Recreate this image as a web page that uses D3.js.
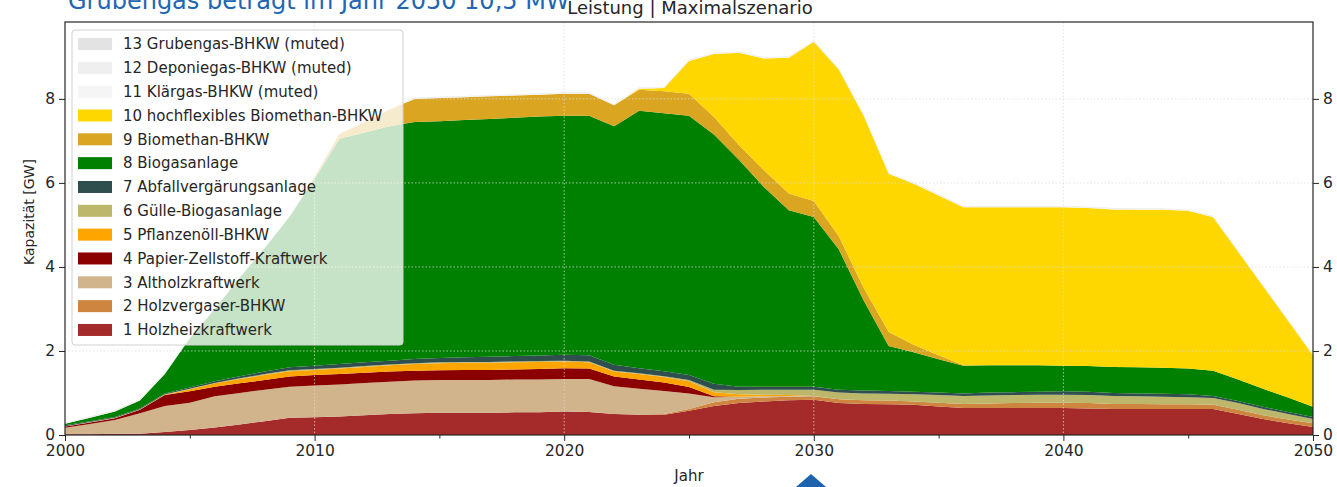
<!DOCTYPE html>
<html>
<head>
<meta charset="utf-8">
<script src="https://cdn.jsdelivr.net/npm/d3@7"></script>
<style>
  html, body { margin: 0; padding: 0; background: #ffffff; }
  svg { display: block; }
  text { font-family: "DejaVu Sans", sans-serif; fill: #262626; }
</style>
</head>
<body>
<svg id="chart" width="1337" height="487"></svg>
<script>
// Years on the x axis
const years = d3.range(2000, 2051);

// Installed capacity per technology in GW, one value per year 2000..2050
const holzheizkraftwerk = [0.02,0.02,0.03,0.03,0.07,0.12,0.18,0.25,0.33,0.41,
  0.42,0.44,0.47,0.50,0.52,0.53,0.53,0.53,0.54,0.54,
  0.56,0.55,0.50,0.48,0.48,0.58,0.69,0.76,0.80,0.83,
  0.84,0.76,0.74,0.73,0.72,0.68,0.64,0.64,0.64,0.64,
  0.64,0.63,0.62,0.62,0.62,0.62,0.62,0.50,0.38,0.28,0.19];
const holzvergaserBhkw = [0,0,0,0,0,0,0,0,0,0,
  0,0,0,0,0,0,0,0,0,0,
  0,0,0,0.01,0.02,0.04,0.09,0.10,0.09,0.08,
  0.08,0.09,0.09,0.09,0.08,0.09,0.10,0.11,0.12,0.13,
  0.13,0.13,0.12,0.12,0.11,0.11,0.10,0.10,0.09,0.09,0.09];
const altholzkraftwerk = [0.15,0.24,0.33,0.49,0.62,0.65,0.74,0.75,0.75,0.74,
  0.76,0.76,0.77,0.77,0.78,0.78,0.78,0.78,0.78,0.78,
  0.77,0.78,0.66,0.61,0.55,0.37,0.12,0.05,0.03,0.02,
  0.01,0,0,0,0,0,0,0,0,0,
  0,0,0,0,0,0,0,0,0,0,0];
const papierZellstoff = [0.03,0.04,0.04,0.08,0.26,0.27,0.23,0.23,0.23,0.24,
  0.25,0.25,0.24,0.24,0.23,0.23,0.24,0.24,0.24,0.25,
  0.26,0.25,0.23,0.22,0.20,0.15,0.02,0,0,0,
  0,0,0,0,0,0,0,0,0,0,
  0,0,0,0,0,0,0,0,0,0,0];
const pflanzenoelBhkw = [0,0,0,0,0.01,0.05,0.08,0.10,0.12,0.13,
  0.12,0.13,0.14,0.15,0.16,0.17,0.17,0.17,0.17,0.17,
  0.16,0.15,0.12,0.13,0.13,0.14,0.10,0.06,0.04,0.02,
  0,0,0,0,0,0,0,0,0,0,
  0,0,0,0,0,0,0,0,0,0,0];
const guelleBiogas = [0.01,0.01,0.01,0.01,0.01,0.01,0.01,0.02,0.02,0.02,
  0.02,0.02,0.02,0.02,0.02,0.02,0.02,0.02,0.02,0.02,
  0.02,0.02,0.02,0.02,0.02,0.03,0.06,0.10,0.12,0.13,
  0.15,0.16,0.16,0.16,0.17,0.18,0.19,0.19,0.19,0.19,
  0.19,0.19,0.19,0.18,0.18,0.17,0.16,0.16,0.15,0.13,0.10];
const abfallvergaerung = [0.02,0.02,0.02,0.02,0.02,0.03,0.04,0.05,0.06,0.07,
  0.08,0.09,0.09,0.09,0.10,0.10,0.11,0.12,0.13,0.13,
  0.14,0.15,0.14,0.12,0.12,0.12,0.14,0.08,0.07,0.07,
  0.07,0.07,0.07,0.07,0.06,0.06,0.06,0.07,0.07,0.07,
  0.08,0.08,0.07,0.07,0.07,0.07,0.05,0.05,0.05,0.05,0.05];
const biogasanlage = [0.04,0.08,0.13,0.19,0.46,1.17,1.72,2.35,2.94,3.59,
  4.45,5.36,5.47,5.58,5.64,5.64,5.65,5.66,5.67,5.69,
  5.69,5.70,5.68,6.13,6.14,6.17,5.93,5.40,4.75,4.20,
  4.04,3.34,2.14,1.07,0.94,0.79,0.66,0.65,0.64,0.63,
  0.61,0.61,0.62,0.62,0.62,0.61,0.60,0.51,0.43,0.34,0.24];
const biomethanBhkw = [0,0,0,0,0,0,0,0,0,0,
  0.05,0.12,0.25,0.40,0.55,0.55,0.54,0.54,0.53,0.52,
  0.52,0.52,0.50,0.50,0.52,0.52,0.42,0.35,0.40,0.40,
  0.38,0.31,0.30,0.33,0.18,0.10,0.01,0,0,0,
  0,0,0,0,0,0,0,0,0,0,0];
const hochflexBiomethan = [0,0,0,0,0,0,0,0,0,0,
  0,0,0,0,0,0,0,0,0,0,
  0,0,0,0.02,0.08,0.78,1.50,2.20,2.66,3.23,
  3.79,3.97,4.10,3.77,3.83,3.80,3.76,3.76,3.76,3.76,
  3.77,3.76,3.75,3.75,3.76,3.76,3.65,3.04,2.44,1.83,1.23];
const klaergasBhkw = [0.01,0.01,0.01,0.01,0.01,0.01,0.01,0.01,0.01,0.01,
  0.01,0.01,0.01,0.01,0.01,0.01,0.01,0.01,0.01,0.01,
  0.01,0.01,0.01,0.01,0.01,0.01,0.01,0.01,0.01,0.01,
  0.01,0.01,0.01,0.01,0.01,0.01,0.01,0.01,0.01,0.01,
  0.01,0.01,0.01,0.01,0.01,0.01,0.01,0.01,0.01,0.01,0.01];
const deponiegasBhkw = [0.01,0.01,0.01,0.01,0.01,0.01,0.01,0.01,0.01,0.01,
  0.01,0.01,0.01,0.01,0.01,0.01,0.01,0.01,0.01,0.01,
  0.01,0.01,0.01,0.01,0.01,0.01,0.01,0.01,0.01,0.01,
  0.01,0.01,0.01,0.01,0.01,0.01,0.01,0.01,0.01,0.01,
  0.01,0.01,0.01,0.01,0.01,0.01,0.01,0.01,0.01,0.01,0.01];
const grubengasBhkw = [0.01,0.01,0.01,0.01,0.01,0.01,0.01,0.01,0.01,0.01,
  0.01,0.01,0.01,0.01,0.01,0.01,0.01,0.01,0.01,0.01,
  0.01,0.01,0.01,0.01,0.01,0.01,0.01,0.01,0.01,0.01,
  0.01,0.01,0.01,0.01,0.01,0.01,0.01,0.01,0.01,0.01,
  0.01,0.01,0.01,0.01,0.01,0.01,0.01,0.01,0.01,0.01,0.0105];

// Series labels, bottom of the stack first
const seriesNames = [
  "1 Holzheizkraftwerk", "2 Holzvergaser-BHKW", "3 Altholzkraftwerk",
  "4 Papier-Zellstoff-Kraftwerk", "5 Pflanzenöll-BHKW", "6 Gülle-Biogasanlage",
  "7 Abfallvergärungsanlage", "8 Biogasanlage", "9 Biomethan-BHKW",
  "10 hochflexibles Biomethan-BHKW", "11 Klärgas-BHKW (muted)",
  "12 Deponiegas-BHKW (muted)", "13 Grubengas-BHKW (muted)"
];
const seriesValues = [
  holzheizkraftwerk, holzvergaserBhkw, altholzkraftwerk, papierZellstoff,
  pflanzenoelBhkw, guelleBiogas, abfallvergaerung, biogasanlage,
  biomethanBhkw, hochflexBiomethan, klaergasBhkw, deponiegasBhkw, grubengasBhkw
];
const seriesColors = [
  "#a52a2a", "#cd853f", "#d2b48c", "#8b0000", "#ffa500", "#bdb76b",
  "#2f4f4f", "#008000", "#daa520", "#ffd700", "#f5f5f5", "#efefef", "#e3e3e3"
];

// Axis ticks
const xMajorTicks = [2000, 2010, 2020, 2030, 2040, 2050];
const xMinorTicks = [2005, 2015, 2025, 2035, 2045];
const yTicks = [0, 2, 4, 6, 8];

const svg = d3.select("#chart");
const margin = { left: 65, right: 1313, top: 22, bottom: 435 };

const x = d3.scaleLinear().domain([2000, 2050]).range([margin.left, margin.right]);
const y = d3.scaleLinear().domain([0, 9.83]).range([margin.bottom, margin.top]);

// Table for the stack: one row per year
const table = years.map((yr, i) => {
  const row = { year: yr };
  seriesNames.forEach((n, k) => { row[n] = seriesValues[k][i]; });
  return row;
});
const stacked = d3.stack().keys(seriesNames)(table);

const area = d3.area()
  .x(d => x(d.data.year))
  .y0(d => y(d[0]))
  .y1(d => y(d[1]));

svg.append("g").selectAll("path")
  .data(stacked)
  .join("path")
  .attr("d", area)
  .attr("fill", (d, i) => seriesColors[i])
  .attr("stroke", "none");

// Dotted grid drawn over the areas
const grid = svg.append("g").attr("stroke", "#dcdcdc").attr("stroke-width", 1)
  .attr("stroke-dasharray", "1.5,2").attr("opacity", 0.75);
grid.selectAll("line.h").data([2, 4, 6, 8]).join("line").attr("class", "h")
  .attr("x1", margin.left).attr("x2", margin.right)
  .attr("y1", d => y(d)).attr("y2", d => y(d));
grid.selectAll("line.v").data([2010, 2020, 2030, 2040]).join("line").attr("class", "v")
  .attr("y1", margin.top).attr("y2", margin.bottom)
  .attr("x1", d => x(d)).attr("x2", d => x(d));

// Axes
const fontSize = "15.5px";
function styleAxis(g) {
  g.select(".domain").remove();
  g.selectAll(".tick line").attr("stroke", "#262626");
  g.selectAll(".tick text").attr("font-size", fontSize).attr("fill", "#262626")
    .attr("font-family", "DejaVu Sans, sans-serif");
}
svg.append("g").attr("transform", `translate(0,${margin.bottom})`)
  .call(d3.axisBottom(x).tickValues(xMajorTicks).tickFormat(d3.format("d")).tickSize(6).tickPadding(4))
  .call(styleAxis);
svg.append("g").attr("transform", `translate(0,${margin.bottom})`)
  .call(d3.axisBottom(x).tickValues(xMinorTicks).tickFormat("").tickSize(3.5))
  .call(styleAxis);
svg.append("g").attr("transform", `translate(${margin.left},0)`)
  .call(d3.axisLeft(y).tickValues(yTicks).tickFormat(d3.format("d")).tickSize(6).tickPadding(4))
  .call(styleAxis);
svg.append("g").attr("transform", `translate(${margin.right},0)`)
  .call(d3.axisRight(y).tickValues(yTicks).tickFormat(d3.format("d")).tickSize(6).tickPadding(4))
  .call(styleAxis);

// Frame
svg.append("rect")
  .attr("x", margin.left).attr("y", margin.top)
  .attr("width", margin.right - margin.left).attr("height", margin.bottom - margin.top)
  .attr("fill", "none").attr("stroke", "#262626").attr("stroke-width", 1.2);

// Axis labels and title
svg.append("text").attr("x", 689).attr("y", 481).attr("text-anchor", "middle")
  .attr("font-size", "15px").text("Jahr");
svg.append("text").attr("transform", "translate(34,212) rotate(-90)")
  .attr("text-anchor", "middle").attr("font-size", "14px").text("Kapazität [GW]");
svg.append("text").attr("x", 690).attr("y", 14).attr("text-anchor", "middle")
  .attr("font-size", "18px").text("Leistung | Maximalszenario");

// Legend, top entry first
const legend = svg.append("g");
legend.append("rect")
  .attr("x", 72).attr("y", 30).attr("width", 331).attr("height", 315)
  .attr("rx", 3).attr("fill", "#ffffff").attr("fill-opacity", 0.78)
  .attr("stroke", "#d0d0d0").attr("stroke-width", 1);
const legendOrder = d3.range(seriesNames.length).reverse();
const rows = legend.selectAll("g.row").data(legendOrder).join("g").attr("class", "row")
  .attr("transform", (d, i) => `translate(0,${44 + i * 23.83})`);
rows.append("rect").attr("x", 78).attr("y", -6).attr("width", 34).attr("height", 12)
  .attr("fill", d => seriesColors[d]);
rows.append("text").attr("x", 123).attr("y", 0).attr("dy", "0.35em")
  .attr("font-size", "15px").text(d => seriesNames[d]);

// Slide annotation above the chart
svg.append("text").attr("x", 68).attr("y", 9)
  .attr("font-family", "Liberation Sans, Arial, sans-serif")
  .attr("font-size", "24px").style("fill", "#1f66b3")
  .text("Grubengas beträgt im Jahr 2050 10,5 MW");

// Pointer arrow head below the axis
svg.append("path")
  .attr("d", d3.line()([[811, 474], [826, 487], [796, 487]]) + "Z")
  .attr("fill", "#1d63ad");
</script>
</body>
</html>
